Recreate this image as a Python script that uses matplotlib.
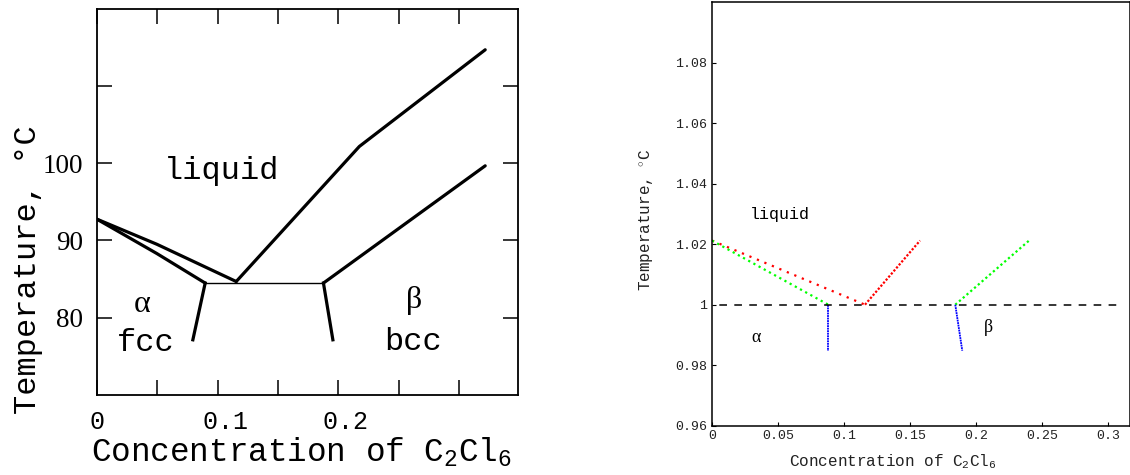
import matplotlib
matplotlib.use("Agg")
import matplotlib.pyplot as plt
from matplotlib.ticker import FuncFormatter

plt.rcParams["mathtext.fontset"] = "custom"
plt.rcParams["mathtext.rm"] = "Liberation Mono"
plt.rcParams["mathtext.it"] = "Liberation Mono:italic"
plt.rcParams["mathtext.bf"] = "Liberation Mono:bold"

MONO = "Liberation Mono"
SERIF = "Liberation Serif"

# ---- left panel: published phase diagram, temperature in deg C ----
liq_left_x = [0.0, 0.0498, 0.1155]
liq_left_t = [92.76, 89.5, 84.68]
sol_left_x = [0.0, 0.0498, 0.0898]
sol_left_t = [92.76, 88.3, 84.48]
liq_right_x = [0.1155, 0.2174, 0.3216]
liq_right_t = [84.68, 102.15, 114.66]
sol_right_x = [0.1877, 0.3216]
sol_right_t = [84.48, 99.65]
eut_x = [0.0898, 0.1877]
eut_t = [84.48, 84.48]
solv_left_x = [0.0898, 0.0796]
solv_left_t = [84.48, 77.14]
solv_right_x = [0.1877, 0.1955]
solv_right_t = [84.48, 77.14]

left_xticks = [0, 0.05, 0.1, 0.15, 0.2, 0.25, 0.3]
left_xticklabels = ["0", "", " 0.1", "", " 0.2", "", ""]
left_yticks = [80, 90, 100, 110]
left_yticklabels = ["80", "90", "100", ""]

# ---- right panel: computed diagram, reduced temperature ----
red_left_x = [0.0, 0.1159]
red_left_t = [1.0212, 1.0]
red_right_x = [0.1159, 0.1576]
red_right_t = [1.0, 1.0212]
green_left_x = [0.0, 0.0881]
green_left_t = [1.0212, 1.0]
green_right_x = [0.1843, 0.2402]
green_right_t = [1.0, 1.0212]
blue_left_x = [0.0881, 0.0881]
blue_left_t = [1.0, 0.9848]
blue_right_x = [0.1843, 0.1896]
blue_right_t = [1.0, 0.9848]
eut_dash_x = [0.0, 0.31]
eut_dash_t = [1.0, 1.0]

right_xticks = [0, 0.05, 0.1, 0.15, 0.2, 0.25, 0.3]
right_yticks = [0.96, 0.98, 1.0, 1.02, 1.04, 1.06, 1.08]

W, H = 1130, 475
fig = plt.figure(figsize=(W / 100, H / 100), dpi=100)

# left axes
ax1 = fig.add_axes([96.7 / W, (H - 395) / H, 421.6 / W, 386.5 / H])
lw = 2.3
ax1.plot(liq_left_x, liq_left_t, color="black", lw=lw, solid_capstyle="round")
ax1.plot(sol_left_x, sol_left_t, color="black", lw=lw, solid_capstyle="round")
ax1.plot(liq_right_x, liq_right_t, color="black", lw=lw, solid_capstyle="round")
ax1.plot(sol_right_x, sol_right_t, color="black", lw=lw, solid_capstyle="round")
ax1.plot(eut_x, eut_t, color="black", lw=1.0)
ax1.plot(solv_left_x, solv_left_t, color="black", lw=lw)
ax1.plot(solv_right_x, solv_right_t, color="black", lw=lw)
ax1.set_xlim(0, 0.349)
ax1.set_ylim(70, 120)
ax1.set_xticks(left_xticks)
ax1.set_xticklabels(left_xticklabels)
ax1.set_yticks(left_yticks)
ax1.set_yticklabels(left_yticklabels)
ax1.tick_params(direction="in", length=10.5, width=1.1, top=True, right=True)
ax1.tick_params(axis="x", labelsize=18, labelfontfamily=MONO, pad=11)
ax1.tick_params(axis="y", labelsize=19.5, labelfontfamily=SERIF, pad=10)
for s in ax1.spines.values():
    s.set_linewidth(1.3)

ax1.text(0.0552, 99.0, "liquid", fontsize=23, family=MONO, va="center", ha="left")
ax1.text(0.041, 76.7, "fcc", fontsize=23, family=MONO, va="center", ha="center")
ax1.text(0.2622, 76.9, "bcc", fontsize=23, family=MONO, va="center", ha="center")
ax1.text(0.0372, 81.7, "α", fontsize=23, family=SERIF, va="center", ha="center")
ax1.text(0.263, 82.2, "β", fontsize=23, family=SERIF, va="center", ha="center")

fig.text(301.5 / W, 1 - 461.7 / H, "Concentration of C$_2$Cl$_6$", fontsize=23.5,
         family=MONO, ha="center", va="baseline")
fig.text(36.5 / W, 1 - 270 / H, "Temperature, °C", fontsize=23, family=MONO,
         rotation=90, rotation_mode="anchor", ha="center", va="baseline")

# right axes
ax2 = fig.add_axes([712 / W, (H - 425.7) / H, (W - 712) / W, 423.5 / H])
ax2.plot(red_left_x, red_left_t, color="red", lw=1.6, linestyle=(0, (1, 2.65)))
ax2.plot(red_right_x, red_right_t, color="red", lw=1.6, linestyle=(0, (1, 0.8)))
ax2.plot(green_left_x, green_left_t, color="lime", lw=1.6, linestyle=(0, (1, 1.66)))
ax2.plot(green_right_x, green_right_t, color="lime", lw=1.6, linestyle=(0, (1, 1.25)))
ax2.plot(blue_left_x, blue_left_t, color="blue", lw=1.3, linestyle=(0, (1, 0.4)))
ax2.plot(blue_right_x, blue_right_t, color="blue", lw=1.3, linestyle=(0, (1, 0.4)))
ax2.plot(eut_dash_x, eut_dash_t, color="black", lw=1.1, linestyle=(5, (5, 4.8)))
ax2.set_xlim(0, (W - 712) / 1320)
ax2.set_ylim(0.96, 1.1)
ax2.set_xticks(right_xticks)
ax2.set_yticks(right_yticks)
fmt = FuncFormatter(lambda v, p: "%g" % round(v, 4))
ax2.xaxis.set_major_formatter(fmt)
ax2.yaxis.set_major_formatter(fmt)
ax2.tick_params(direction="in", length=3, width=0.8, labelsize=9.5,
                labelfontfamily=MONO, labelcolor="#222222")
ax2.tick_params(axis="x", pad=3)
ax2.tick_params(axis="y", pad=3.5)
for s in ax2.spines.values():
    s.set_linewidth(1.1)

ax2.text(0.029, 1.0297, "liquid", fontsize=12, family=MONO, va="center", ha="left")
ax2.text(0.0333, 0.989, "α", fontsize=13, family=SERIF, va="center", ha="center")
ax2.text(0.2096, 0.9923, "β", fontsize=13, family=SERIF, va="center", ha="center")

fig.text(892.7 / W, 1 - 466 / H, "Concentration of C$_2$Cl$_6$", fontsize=11.5,
         family=MONO, color="#222222", ha="center", va="baseline")
fig.text(650.7 / W, 1 - 220 / H, "Temperature, $^{\\circ}$C", fontsize=11.5,
         family=MONO, color="#222222", rotation=90, rotation_mode="anchor",
         ha="center", va="baseline")

fig.savefig("out.png", dpi=100)
